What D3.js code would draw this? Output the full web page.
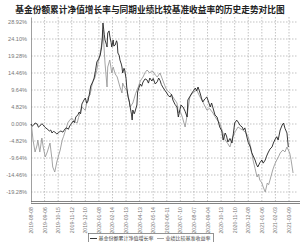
<!DOCTYPE html>
<html><head><meta charset="utf-8">
<script src="https://cdn.jsdelivr.net/npm/d3@7"></script>
<style>
html,body{margin:0;padding:0;background:#fff;}
svg{display:block;}
</style></head>
<body>
<svg id="c" width="300" height="242"></svg>
<script>
const title = "基金份额累计净值增长率与同期业绩比较基准收益率的历史走势对比图";
const legendLabels = ["基金份额累计净值增长率", "业绩比较基准收益率"];
const yTicks = [28.92, 24.10, 19.28, 14.46, 9.64, 4.82, 0, -4.82, -9.64, -14.46, -19.28];
const xTickDays = [0,20,40,60,80,100,120,140,160,180,200,220,240,260,280,300,320,340,360,380];
const xTickLabels = ["2019-08-08","2019-09-06","2019-10-15","2019-11-12","2019-12-10","2020-01-08","2020-02-14","2020-03-13","2020-04-13","2020-05-14","2020-06-11","2020-07-10","2020-08-07","2020-09-04","2020-10-13","2020-11-10","2020-12-08","2021-01-06","2021-02-03","2021-03-09"];

const fundDays = [0,2,4,6,9,11,13,16,18,20,22,25,27,29,31,33,35,38,40,42,44,47,49,51,53,55,57,60,62,64,66,69,71,73,75,78,80,82,84,86,88,91,93,95,97,100,102,104,105,106,108,109,111,112,113,115,116,118,119,121,122,124,126,127,128,130,131,133,134,135,137,138,140,141,143,145,146,148,149,150,152,153,156,157,159,161,163,165,168,171,173,175,178,180,183,186,188,190,192,194,197,200,202,205,207,209,212,215,217,219,221,224,227,230,231,234,237,240,242,244,246,249,251,253,256,259,262,264,266,268,271,274,276,278,281,283,286,288,290,293,296,298,300,303,305,308,311,313,315,318,320,323,325,328,330,332,334,337,340,342,345,347,349,352,355,357,359,362,364,367,370,372,374,377,379,381,383,384,386];
const fundValues = [0.00,-0.60,-0.28,0.30,0.00,-0.90,-0.57,0.10,-0.28,-0.80,-1.13,-1.60,-1.98,-1.70,-2.55,-2.10,-2.27,-2.80,-2.55,-2.20,-1.98,-2.30,-1.70,-1.20,-1.13,-1.50,-0.57,0.20,0.85,0.40,1.98,2.60,3.40,2.90,5.67,6.80,7.37,5.90,6.52,8.50,10.77,12.00,13.04,15.20,17.58,18.60,19.56,21.80,24.38,28.64,25.30,23.82,22.60,21.83,25.80,26.40,24.95,23.10,21.83,23.82,22.10,22.40,23.60,22.97,20.13,19.40,18.15,17.00,16.16,14.46,15.80,15.31,12.90,10.49,7.66,6.20,4.82,2.80,1.13,3.97,2.90,3.40,5.39,9.07,10.30,11.34,10.70,11.91,12.80,12.47,11.60,13.04,12.19,12.90,11.34,12.00,13.04,12.40,11.20,10.49,9.60,8.79,8.10,7.66,8.40,6.80,5.60,4.82,1.98,3.80,5.39,4.82,3.60,1.98,6.80,7.80,8.79,9.60,10.21,9.40,10.49,8.79,7.40,6.24,7.10,7.66,6.00,4.82,5.95,4.60,2.55,1.98,0.60,-0.85,-2.00,-4.54,-2.55,-3.40,-5.10,-4.10,-5.39,-2.80,0.28,1.10,0.57,-0.40,-0.85,-1.70,-1.10,-3.69,-5.20,-6.52,-8.10,-9.36,-10.21,-11.40,-12.19,-11.00,-10.21,-11.10,-10.21,-9.10,-8.22,-7.10,-6.52,-5.40,-4.54,-3.60,-4.54,-1.70,-0.28,0.28,-1.20,-2.55,-6.52];

const benchDays = [0,1,3,6,9,10,13,16,18,21,24,28,31,32,35,38,40,43,46,48,50,52,54,57,60,64,68,70,72,75,78,80,84,87,89,91,94,97,99,102,105,106,109,112,113,116,119,121,124,127,129,131,134,135,138,141,144,146,150,154,158,161,165,168,171,175,178,180,183,186,190,194,197,200,203,205,209,212,215,217,219,223,227,230,234,237,240,244,249,253,256,259,263,268,271,274,278,282,286,290,293,297,301,305,309,312,316,320,324,327,330,333,335,337,340,342,345,348,350,352,356,359,362,365,367,371,374,377,381,383,386];
const benchValues = [0.00,-0.85,-4.54,-7.94,-5.95,-4.54,-7.94,-3.97,-6.52,-9.36,-7.94,-5.39,-10.21,-12.19,-13.61,-10.77,-9.36,-7.37,-4.54,-3.50,-2.27,-1.20,0.28,1.10,1.70,0.70,0.28,1.80,3.12,4.82,4.20,3.97,7.66,8.22,10.40,11.91,13.04,15.31,17.60,20.13,23.82,26.65,17.29,10.49,16.16,18.15,14.46,16.16,14.20,13.33,11.90,10.49,8.79,11.62,10.30,9.64,7.20,4.82,5.95,8.60,10.49,12.20,13.33,14.60,15.31,14.46,15.10,14.74,13.90,13.33,14.46,12.47,10.90,9.64,9.10,8.79,7.66,6.80,5.95,3.12,3.97,1.90,-0.85,2.60,7.66,8.60,9.10,9.64,7.66,6.30,5.10,3.97,4.40,3.12,2.10,1.20,0.28,-2.10,-4.54,-5.60,-6.52,-3.69,-2.10,-0.85,-1.40,-1.70,-2.40,-3.69,-6.90,-10.21,-12.60,-15.03,-14.20,-15.88,-16.70,-17.86,-19.28,-16.73,-17.20,-15.88,-13.04,-11.40,-10.21,-9.10,-8.22,-7.37,-7.90,-6.52,-8.22,-10.10,-13.89];

const svg = d3.select("#c");
const L = 31, R = 298, T = 17, B = 202;
const x = d3.scaleLinear().domain([0, 380 * (R - L) / 258]).range([L, R]);
const y = d3.scaleLinear().domain([-22.11, 30.34]).range([B, T]);

svg.append("text").attr("x", 150).attr("y", 13).attr("text-anchor", "middle")
  .attr("font-family", "'Noto Sans CJK SC'").attr("font-weight", "bold")
  .attr("font-size", 8.7).attr("fill", "#222").text(title);

// horizontal grid
svg.append("g").selectAll("line").data(yTicks).join("line")
  .attr("x1", L).attr("x2", R).attr("y1", d => y(d)).attr("y2", d => y(d))
  .attr("stroke", "#aaa").attr("stroke-width", 0.7).attr("stroke-dasharray", "1.5,1.5");
// vertical grid
svg.append("g").selectAll("line").data(xTickDays.slice(1)).join("line")
  .attr("x1", d => x(d)).attr("x2", d => x(d)).attr("y1", T).attr("y2", B)
  .attr("stroke", "#aaa").attr("stroke-width", 0.7).attr("stroke-dasharray", "1.5,1.5");

// y axis
const yAxis = d3.axisLeft(y).tickValues(yTicks).tickSize(0).tickPadding(4)
  .tickFormat(d => d.toFixed(2) + "%");
const gy = svg.append("g").attr("transform", `translate(${L},0)`).call(yAxis);
gy.select(".domain").attr("stroke", "#888").attr("stroke-width", 0.8);
gy.selectAll("text").attr("font-family", "'Liberation Sans'").attr("font-size", 5.6).attr("fill", "#777");

// bottom double line
svg.append("line").attr("x1", L).attr("x2", 300).attr("y1", B - 0.5).attr("y2", B - 0.5).attr("stroke", "#666").attr("stroke-width", 0.8);
svg.append("line").attr("x1", L).attr("x2", 300).attr("y1", B + 1.5).attr("y2", B + 1.5).attr("stroke", "#666").attr("stroke-width", 0.8);

// x labels
svg.append("g").selectAll("text").data(xTickDays).join("text")
  .attr("transform", (d, i) => `translate(${x(d) + 2},207) rotate(-90)`)
  .attr("text-anchor", "end").attr("font-family", "'Liberation Sans'")
  .attr("font-size", 5.2).attr("fill", "#777").text((d, i) => xTickLabels[i]);

const line = d3.line().x(d => x(d[0])).y(d => y(d[1]));
svg.append("path").datum(d3.zip(benchDays, benchValues)).attr("d", line)
  .attr("fill", "none").attr("stroke", "#9a9a9a").attr("stroke-width", 0.9);
svg.append("path").datum(d3.zip(fundDays, fundValues)).attr("d", line)
  .attr("fill", "none").attr("stroke", "#222").attr("stroke-width", 0.9);

// legend
const lg = svg.append("g");
lg.append("rect").attr("x", 88.5).attr("y", 233.5).attr("width", 125).attr("height", 12)
  .attr("fill", "#fff").attr("stroke", "#666").attr("stroke-width", 0.7);
const lx = [90, 157];
const lc = ["#222", "#9a9a9a"];
legendLabels.forEach((t, i) => {
  lg.append("line").attr("x1", lx[i]).attr("x2", lx[i] + 7).attr("y1", 238.5).attr("y2", 238.5)
    .attr("stroke", lc[i]).attr("stroke-width", 0.9);
  lg.append("text").attr("x", lx[i] + 8.5).attr("y", 240.3).attr("font-family", "'Noto Sans CJK SC'")
    .attr("font-size", 5).attr("fill", "#444").text(t);
});
</script>
</body></html>
